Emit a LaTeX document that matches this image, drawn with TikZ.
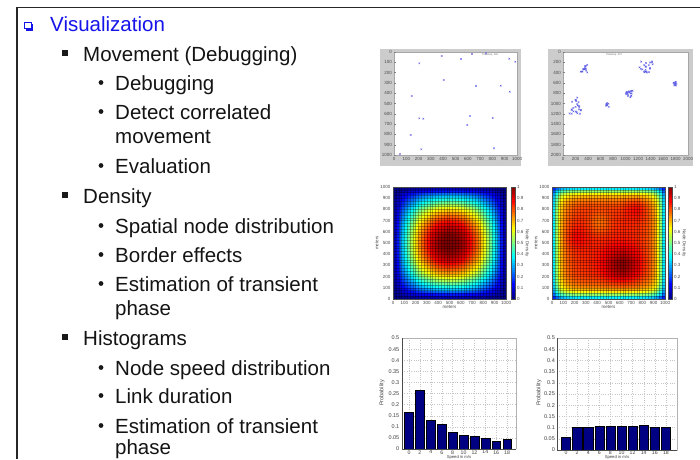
\documentclass[tikz,border=0pt]{standalone}
\usepackage{fontspec}
\setmainfont{Liberation Sans}
\definecolor{vizblue}{RGB}{20,20,235}
\definecolor{navybar}{RGB}{0,0,130}
\definecolor{figgray}{RGB}{204,204,204}
\definecolor{ptblue}{RGB}{90,90,230}
\newcommand\jetset[2]{%
  \pgfmathsetmacro\jr{max(0,min(1,1.5-abs(4*#2-3)))}%
  \pgfmathsetmacro\jg{max(0,min(1,1.5-abs(4*#2-2)))}%
  \pgfmathsetmacro\jb{max(0,min(1,1.5-abs(4*#2-1)))}%
  \definecolor{#1}{rgb}{\jr,\jg,\jb}}
\begin{document}
\begin{tikzpicture}[x=1pt,y=-1pt,
  lone/.style={anchor=base west,inner sep=0pt,font=\fontsize{20.5}{24}\selectfont,text=vizblue},
  body/.style={anchor=base west,inner sep=0pt,font=\fontsize{20.5}{24}\selectfont,text=black!92},
  tk/.style={inner sep=0pt,font=\fontsize{4.5}{5}\selectfont,text=black!70},
  tkh/.style={inner sep=0pt,font=\fontsize{5.5}{6}\selectfont,text=black!75},
  tkx/.style={inner sep=0pt,font=\fontsize{5.2}{6}\selectfont,text=black!75},
  tks/.style={inner sep=0pt,font=\fontsize{4.2}{5}\selectfont,text=black!75},
  gridl/.style={gray!45,line width=0.3,dotted},
  cellgrid/.style={black,opacity=0.3,line width=0.25},
  sq/.style={fill=black!90},
  dotb/.style={fill=black!90},
  xmark/.style={ptblue,line width=0.35}]
\useasboundingbox (0,0) rectangle (700,459);
\fill[white] (0,0) rectangle (700,459);
\clip (0,0) rectangle (700,459);

% slide frame
\draw[black!85,line width=1.3] (17,459) -- (17,7.5) -- (700,7.5);

% ---------- bullet text ----------
\fill[vizblue] (26,23.5) rectangle (33,30.5);
\fill[white] (24.5,22) rectangle (31,28.8);
\draw[vizblue,line width=0.9] (24.5,22) rectangle (31,28.8);
\node[lone] (t1) at (50,31) {Visualization};

\foreach \b in {61,203,345}{\fill[sq] (62,\b-11) rectangle (67.5,\b-5.5);}
\foreach \b in {90,119,173,233,262,291,375,403,433}{\fill[dotb] (101,\b-7.5) circle (2.4);}

\node[body] (t2) at (83,61) {Movement (Debugging)};
\node[body] (t3) at (115,90) {Debugging};
\node[body] (t4) at (115,119) {Detect correlated};
\node[body] (t5) at (115,143) {movement};
\node[body] (t6) at (115,173) {Evaluation};
\node[body] (t7) at (83,203) {Density};
\node[body] (t8) at (115,233) {Spatial node distribution};
\node[body] (t9) at (115,262) {Border effects};
\node[body] (t10) at (115,291) {Estimation of transient};
\node[body] (t11) at (115,315) {phase};
\node[body] (t12) at (83,345) {Histograms};
\node[body] (t13) at (115,375) {Node speed distribution};
\node[body] (t14) at (115,403) {Link duration};
\node[body] (t15) at (115,433) {Estimation of transient};
\node[body] (t16) at (115,454) {phase};

% ---------- scatter plot 1 ----------
\fill[figgray] (380,49) rectangle (521,166);
\fill[white] (394,52) rectangle (517,155);
\draw[gray!70,line width=0.3] (394,52) rectangle (517,155);
\foreach \k in {0,...,10}{
  \pgfmathtruncatemacro\lab{\k*100}
  \node[tk,anchor=east] (sa\k) at (392,52+\k*10.3) {\lab};
  \node[tk,anchor=north] (sb\k) at (394+\k*12.3,157) {\lab};
  \draw[gray,line width=0.25] (394,52+\k*10.3) -- (395.5,52+\k*10.3);
}
\node[inner sep=0pt,font=\fontsize{2.5}{3}\selectfont,text=black!60] (st1) at (490,55) {Timestep: 406};
\foreach \p/\q in {441.7/56,419.3/63.3,461/59,472/54,486/53.3,509.3/58.7,515.3/61.7,443.7/80,411.7/96,476/86,500.7/85.7,509.7/91.7,419.3/118.3,423.3/118.7,470/116,467.3/125,492.7/118,410.7/135,421.3/149.3,494/148.3,400/154}{
  \draw[xmark] (\p-0.8,\q-0.8) -- (\p+0.8,\q+0.8) (\p-0.8,\q+0.8) -- (\p+0.8,\q-0.8);
}

% ---------- scatter plot 2 ----------
\fill[figgray] (548,49) rectangle (693,166);
\fill[white] (563,52) rectangle (688,155);
\draw[gray!70,line width=0.3] (563,52) rectangle (688,155);
\foreach \k in {0,...,10}{
  \pgfmathtruncatemacro\lab{\k*200}
  \node[tk,anchor=east] (sc\k) at (561,52+\k*10.3) {\lab};
  \node[tk,anchor=north] (sd\k) at (563+\k*12.5,157) {\lab};
  \draw[gray,line width=0.25] (563,52+\k*10.3) -- (564.5,52+\k*10.3);
}
\node[inner sep=0pt,font=\fontsize{2.5}{3}\selectfont,text=black!60] (st2) at (614,54.5) {Timestep: 407};
\pgfmathsetseed{7}
\foreach \cx/\cy/\rx/\ry/\n in {584/68/4.5/4.5/14,646/67/8/5.5/22,675.5/83.5/2/2/10,630/94/4.5/3.5/18,607.5/105/1.5/2/8,575/106/6/9/24}{
  \foreach \m in {1,...,\n}{
    \pgfmathsetmacro\px{\cx+\rx*rand}
    \pgfmathsetmacro\py{\cy+\ry*rand}
    \draw[xmark] (\px-0.8,\py-0.8) -- (\px+0.8,\py+0.8) (\px-0.8,\py+0.8) -- (\px+0.8,\py-0.8);
  }
}

% ---------- density heatmap 1 ----------
\foreach \i in {0,...,39}{
  \foreach \j in {0,...,39}{
    \pgfmathsetmacro\u{(\i+0.5)/40}
    \pgfmathsetmacro\w{(\j+0.5)/40}
    \pgfmathsetmacro\f{min(1,16.2*\u*(1-\u)*\w*(1-\w))}
    \jetset{hc}{\f}
    \fill[hc] (393+\i*2.825,299-\j*2.8-2.8) rectangle ++(2.825,2.8);
  }
}
\foreach \k in {0,...,40}{
  \draw[cellgrid] (393+\k*2.825,187) -- (393+\k*2.825,299);
  \draw[cellgrid] (393,187+\k*2.8) -- (506,187+\k*2.8);
}
\draw[black!70,line width=0.3] (393,187) rectangle (506,299);

% ---------- density heatmap 2 ----------
\foreach \i in {0,...,39}{
  \foreach \j in {0,...,39}{
    \pgfmathsetmacro\u{(\i+0.5)/40}
    \pgfmathsetmacro\w{(\j+0.5)/40}
    \pgfmathsetmacro\E{(1-0.7*exp(max(-9,-\u/0.06)))*(1-0.7*exp(max(-9,-(1-\u)/0.06)))*(1-0.7*exp(max(-9,-\w/0.06)))*(1-0.7*exp(max(-9,-(1-\w)/0.06)))}
    \pgfmathsetmacro\f{min(1,\E*(0.84+0.15*exp(max(-9,-((\u-0.62)*(\u-0.62)+(\w-0.3)*(\w-0.3))/0.025))+0.06*exp(max(-9,-((\u-0.75)*(\u-0.75)+(\w-0.82)*(\w-0.82))/0.01))+0.05*exp(max(-9,-((\u-0.2)*(\u-0.2)+(\w-0.55)*(\w-0.55))/0.012))-0.07*exp(max(-9,-((\u-0.42)*(\u-0.42)+(\w-0.68)*(\w-0.68))/0.01))))}
    \jetset{hc}{\f}
    \fill[hc] (552+\i*2.825,299-\j*2.8-2.8) rectangle ++(2.825,2.8);
  }
}
\foreach \k in {0,...,40}{
  \draw[cellgrid] (552+\k*2.825,187) -- (552+\k*2.825,299);
  \draw[cellgrid] (552,187+\k*2.8) -- (665,187+\k*2.8);
}
\draw[black!70,line width=0.3] (552,187) rectangle (665,299);

% heatmap axes labels and colorbars
\foreach \x/\cb/\nm in {393/511/L,552/668/R}{
  \foreach \k in {0,...,10}{
    \pgfmathtruncatemacro\lab{\k*100}
    \node[tk,anchor=east] (hy\nm\k) at (\x-2.5,299-\k*11.2) {\lab};
    \node[tk,anchor=north] (hx\nm\k) at (\x+\k*11.3,301) {\lab};
  }
  \node[tk] (hm\nm) at (\x+56.5,307.5) {meters};
  \node[tk,rotate=90] (hv\nm) at (\x-16,243) {meters};
  \foreach \k in {0,...,49}{
    \pgfmathsetmacro\v{(\k+0.5)/50}
    \jetset{cc}{\v}
    \fill[cc] (\cb,299-\k*2.24-2.3) rectangle (\cb+4.5,299-\k*2.24);
  }
  \draw[black!70,line width=0.3] (\cb,187) rectangle (\cb+4.5,299);
  \foreach \k/\t in {0/0,1/0.1,2/0.2,3/0.3,4/0.4,5/0.5,6/0.6,7/0.7,8/0.8,9/0.9,10/1}{
    \node[tk,anchor=west] (cl\nm\k) at (\cb+6,299-\k*11.2) {\t};
  }
  \node[tk,rotate=-90] (cn\nm) at (\cb+16,243) {Node Density};
}

% ---------- histogram 1 ----------
\foreach \k in {0,...,10}{\draw[gridl] (402,449-\k*11.1) -- (516,449-\k*11.1);}
\foreach \k in {0,...,9}{\draw[gridl] (409+\k*10.9,338) -- (409+\k*10.9,449);}
\foreach \h [count=\k from 0] in {0.165,0.265,0.13,0.112,0.077,0.063,0.058,0.047,0.033,0.044}{
  \fill[navybar,draw=black,line width=0.4] (409+\k*10.9-4.4,449-\h*222) rectangle (409+\k*10.9+4.4,449);
}
\draw[gray!60,line width=0.3] (402,338) -- (516,338) -- (516,449);
\draw[black!70,line width=0.35] (402,338) -- (402,449) -- (516,449);
\foreach \k/\t in {0/0,1/0.05,2/0.1,3/0.15,4/0.2,5/0.25,6/0.3,7/0.35,8/0.4,9/0.45,10/0.5}{
  \node[tkh,anchor=east] (ha\k) at (399.5,449-\k*11.1) {\t};
}
\foreach \k in {0,...,9}{
  \pgfmathtruncatemacro\lab{\k*2}
  \node[tkx,anchor=north] (hb\k) at (409+\k*10.9,450.2) {\lab};
}
\node[tkh,rotate=90] (hp1) at (382,393) {Probability};
\node[tks,anchor=south] (hs1) at (459,459.2) {Speed in m/s};

% ---------- histogram 2 ----------
\foreach \k in {0,...,10}{\draw[gridl] (557,450-\k*11.2) -- (677,450-\k*11.2);}
\foreach \k in {0,...,9}{\draw[gridl] (566+\k*11.1,338) -- (566+\k*11.1,450);}
\foreach \h [count=\k from 0] in {0.055,0.102,0.104,0.106,0.106,0.106,0.107,0.111,0.1,0.104}{
  \fill[navybar,draw=black,line width=0.4] (566+\k*11.1-4.6,450-\h*224) rectangle (566+\k*11.1+4.6,450);
}
\draw[gray!60,line width=0.3] (557,338) -- (677,338) -- (677,450);
\draw[black!70,line width=0.35] (557,338) -- (557,450) -- (677,450);
\foreach \k/\t in {0/0,1/0.05,2/0.1,3/0.15,4/0.2,5/0.25,6/0.3,7/0.35,8/0.4,9/0.45,10/0.5}{
  \node[tkh,anchor=east] (hc\k) at (555,450-\k*11.2) {\t};
}
\foreach \k in {0,...,9}{
  \pgfmathtruncatemacro\lab{\k*2}
  \node[tkx,anchor=north] (hd\k) at (566+\k*11.1,450.4) {\lab};
}
\node[tkh,rotate=90] (hp2) at (539,393) {Probability};
\node[tks,anchor=south] (hs2) at (617,459.2) {Speed in m/s};
\end{tikzpicture}
\end{document}
